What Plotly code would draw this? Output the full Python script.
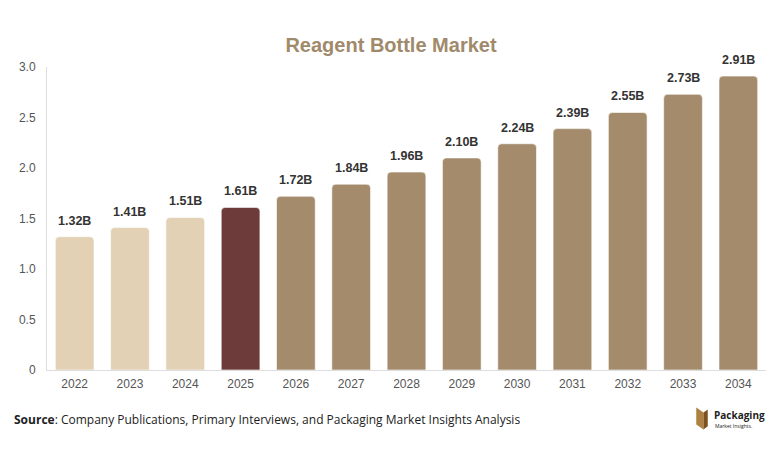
import plotly.graph_objects as go

# ---- data ----
years = ["2022", "2023", "2024", "2025", "2026", "2027", "2028",
         "2029", "2030", "2031", "2032", "2033", "2034"]
values = [1.32, 1.41, 1.51, 1.61, 1.72, 1.84, 1.96,
          2.10, 2.24, 2.39, 2.55, 2.73, 2.91]
labels = [f"{v:.2f}B" for v in values]

# past = beige, base year = maroon, forecast = brown
past_color = "#E2D1B4"
base_color = "#6E3B3B"
fcst_color = "#A38B6C"
colors = [past_color if int(y) < 2025 else base_color if y == "2025" else fcst_color
          for y in years]

fig = go.Figure()
fig.add_trace(go.Bar(
    x=years, y=values,
    marker=dict(color=colors, line=dict(color="rgba(255,255,255,0.6)", width=1)),
    hoverinfo="x+y",
))

# value labels above bars (category axis -> use category index)
for i, (v, lab) in enumerate(zip(values, labels)):
    fig.add_annotation(x=i, y=v, text=f"<b>{lab}</b>", showarrow=False,
                       yanchor="bottom", yshift=7,
                       font=dict(family="Liberation Sans, Arial", size=12.5, color="#333333"))

fig.update_layout(
    width=766, height=441,
    margin=dict(l=39, r=8, t=59, b=79),
    paper_bgcolor="white", plot_bgcolor="white",
    bargap=0.3,
    barcornerradius=4,
    showlegend=False,
    title=dict(text="<b>Reagent Bottle Market</b>", x=0.5, xanchor="center",
               y=0.916, yanchor="middle",
               font=dict(family="Liberation Sans, Arial", size=20, color="#A08A6B")),
    font=dict(family="Liberation Sans, Arial", size=12, color="#555555"),
)

fig.update_xaxes(type="category", showgrid=False, showline=True, linecolor="#DDDDDD",
                 linewidth=1, ticks="", ticklabelstandoff=3,
                 tickfont=dict(size=12, color="#555555"))
fig.update_yaxes(range=[0, 3.0], showgrid=False,
                 showline=True, linecolor="#DDDDDD", linewidth=1, zeroline=False,
                 ticks="", ticklabelstandoff=8,
                 tickfont=dict(size=12, color="#555555"),
                 tickvals=[0, 0.5, 1.0, 1.5, 2.0, 2.5, 3.0],
                 ticktext=["0", "0.5", "1.0", "1.5", "2.0", "2.5", "3.0"])

# source footer
fig.add_annotation(
    text="<b>Source</b>: Company Publications, Primary Interviews, and Packaging Market Insights Analysis",
    xref="paper", yref="paper", x=-0.048, y=-0.162, xanchor="left", yanchor="middle",
    showarrow=False, font=dict(family="Open Sans", size=12, color="#222222"))

# logo
fig.add_shape(type="path", xref="paper", yref="paper",
              path="M 0.903 -0.124 L 0.913 -0.140 L 0.913 -0.196 L 0.903 -0.180 Z",
              fillcolor="#B08040", line=dict(width=0))
fig.add_shape(type="path", xref="paper", yref="paper",
              path="M 0.913 -0.140 L 0.919 -0.130 L 0.919 -0.186 L 0.913 -0.196 Z",
              fillcolor="#7A5420", line=dict(width=0))
fig.add_annotation(text="<b>Packaging</b>", xref="paper", yref="paper",
                   x=0.925, y=-0.150, xanchor="left", yanchor="middle", showarrow=False,
                   font=dict(family="Open Sans", size=10, color="#222222"))
fig.add_annotation(text="Market Insights.", xref="paper", yref="paper",
                   x=0.926, y=-0.186, xanchor="left", yanchor="middle", showarrow=False,
                   font=dict(family="Open Sans", size=5, color="#222222"))

fig.write_html("out.html")
